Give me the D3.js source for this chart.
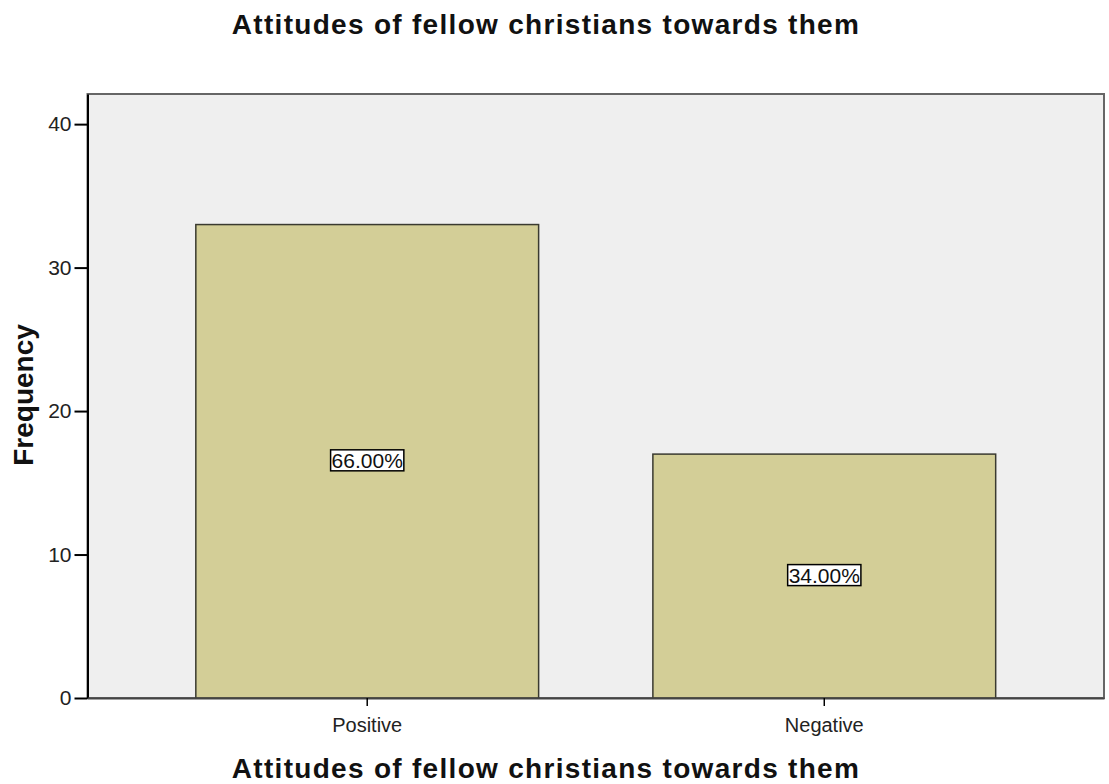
<!DOCTYPE html>
<html><head><meta charset="utf-8">
<script src="https://cdn.jsdelivr.net/npm/d3@7"></script>
<style>body{margin:0;background:#fff;} text{font-family:"Liberation Sans",Arial,sans-serif;}</style>
</head><body>
<svg id="c" width="1109" height="784"></svg>
<script>
const categories = ["Positive", "Negative"];
const frequencies = [33, 17];
const percentLabels = ["66.00%", "34.00%"];
const yTicks = [0, 10, 20, 30, 40];
const titleText = "Attitudes of fellow christians towards them";
const xTitle = "Attitudes of fellow christians towards them";
const yTitle = "Frequency";

const svg = d3.select("#c");
const L = 87.5, R = 1104, T = 94, B = 698;
const y = d3.scaleLinear().domain([0, 42.1]).range([B, T]);
const x = d3.scaleBand().domain(categories).range([L, R]).paddingInner(0.25).paddingOuter(0.237);

svg.append("rect").attr("x", L).attr("y", T).attr("width", R - L).attr("height", B - T)
  .attr("fill", "#efefef").attr("stroke", "#666").attr("stroke-width", 2);

svg.selectAll("rect.bar").data(categories).enter().append("rect").attr("class", "bar")
  .attr("x", d => x(d)).attr("width", x.bandwidth())
  .attr("y", (d, i) => y(frequencies[i])).attr("height", (d, i) => B - y(frequencies[i]))
  .attr("fill", "#d3ce97").attr("stroke", "#3a3a30").attr("stroke-width", 1.5);

// y axis
const ya = d3.axisLeft(y).tickValues(yTicks).tickSize(13).tickSizeOuter(0).tickPadding(3);
const gy = svg.append("g").attr("transform", `translate(${L},0)`).call(ya);
gy.select(".domain").attr("stroke", "#000").attr("stroke-width", 2);
gy.selectAll(".tick line").attr("stroke", "#000").attr("stroke-width", 2);
gy.selectAll(".tick text").attr("font-size", 21).attr("fill", "#222").attr("font-family", "Liberation Sans, Arial, sans-serif");

// x axis
const xa = d3.axisBottom(x).tickSize(8).tickSizeOuter(0).tickPadding(12);
const gx = svg.append("g").attr("transform", `translate(0,${B})`).call(xa);
gx.select(".domain").attr("stroke", "#444").attr("stroke-width", 2);
gx.selectAll(".tick line").attr("stroke", "#000").attr("stroke-width", 1.5);
gx.selectAll(".tick text").attr("font-size", 20).attr("fill", "#222").attr("font-family", "Liberation Sans, Arial, sans-serif");

// percent labels
categories.forEach((c, i) => {
  const cx = x(c) + x.bandwidth() / 2;
  const cy = y(frequencies[i] / 2);
  const g = svg.append("g");
  const t = g.append("text").attr("x", cx).attr("y", cy + 1).attr("text-anchor", "middle")
    .attr("dominant-baseline", "middle").attr("font-size", 21).attr("fill", "#111").text(percentLabels[i]);
  const bb = t.node().getBBox();
  g.insert("rect", "text").attr("x", bb.x - 1).attr("y", bb.y + 1).attr("width", bb.width + 2).attr("height", bb.height - 2)
    .attr("fill", "#fff").attr("stroke", "#000").attr("stroke-width", 1.5);
});

svg.append("text").attr("x", 546).attr("y", 34).attr("text-anchor", "middle")
  .attr("font-size", 28).attr("letter-spacing", 1.3).attr("font-weight", "bold").attr("fill", "#111").text(titleText);
svg.append("text").attr("x", 546).attr("y", 778).attr("text-anchor", "middle")
  .attr("font-size", 28).attr("letter-spacing", 1.3).attr("font-weight", "bold").attr("fill", "#111").text(xTitle);
svg.append("text").attr("transform", "translate(33,395) rotate(-90)").attr("text-anchor", "middle")
  .attr("font-size", 28).attr("font-weight", "bold").attr("fill", "#111").text(yTitle);
</script>
</body></html>
